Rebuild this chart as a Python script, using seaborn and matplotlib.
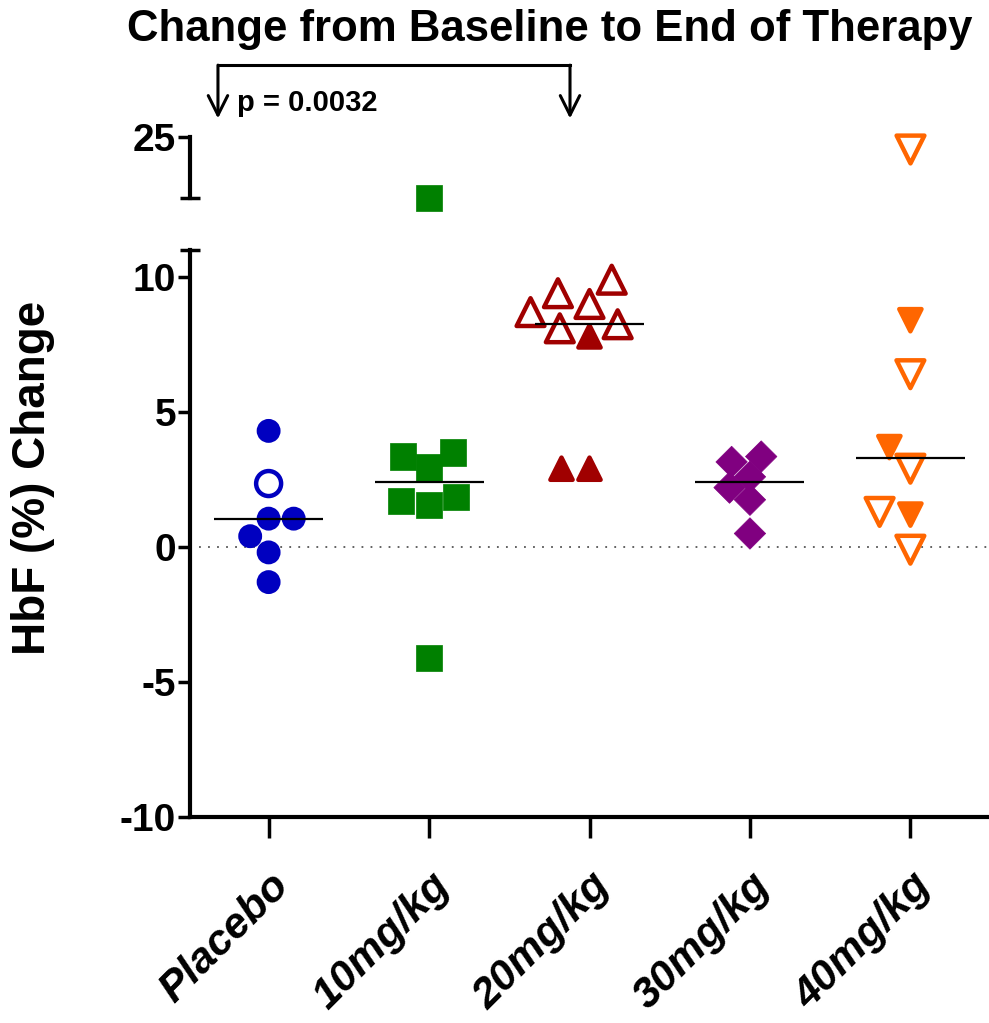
import numpy as np
import pandas as pd
import matplotlib
matplotlib.use('Agg')
import matplotlib.pyplot as plt
import seaborn as sns

# groups and per-group HbF change values
groups = ['Placebo', '10mg/kg', '20mg/kg', '30mg/kg', '40mg/kg']
colors = ['#0000C0', '#008000', '#A00000', '#800080', '#FF6600']
markers = ['o', 's', '^', 'D', 'v']
marker_sizes = [18, 19, 20, 16, 20]

placebo = [4.3, 2.35, 1.05, 1.05, 0.4, -0.2, -1.3]
placebo_open = [0, 1, 0, 0, 0, 0, 0]
mg10 = [20.0, 3.5, 3.35, 2.95, 1.85, 1.7, 1.55, -4.1]
mg10_open = [0, 0, 0, 0, 0, 0, 0, 0]
mg20 = [9.9, 9.4, 9.0, 8.7, 8.25, 8.1, 7.8, 2.9, 2.9]
mg20_open = [1, 1, 1, 1, 1, 1, 0, 0, 0]
mg30 = [3.35, 3.15, 2.6, 2.2, 1.75, 0.5]
mg30_open = [0, 0, 0, 0, 0, 0]
mg40 = [24.0, 8.4, 6.4, 3.7, 2.9, 1.3, 1.2, -0.1]
mg40_open = [1, 0, 1, 0, 1, 1, 0, 1]

ytick_lo = [-10, -5, 0, 5, 10]
ytick_hi = [25]

values = [placebo, mg10, mg20, mg30, mg40]
opens = [placebo_open, mg10_open, mg20_open, mg30_open, mg40_open]
df = pd.DataFrame({
    'group': np.repeat(groups, [len(v) for v in values]),
    'value': np.concatenate(values),
    'open': np.concatenate(opens).astype(bool),
})

sns.set_style('ticks')
plt.rcParams['font.family'] = ['Liberation Sans', 'DejaVu Sans']
plt.rcParams['font.weight'] = 'bold'
for key in ['text.color', 'axes.labelcolor', 'xtick.color', 'ytick.color',
            'axes.edgecolor']:
    plt.rcParams[key] = 'black'

fig = plt.figure(figsize=(9.89, 10.23), dpi=100)
ax_lo = fig.add_axes([190 / 989, 1 - 817 / 1023, 799 / 989, 567 / 1023])
ax_hi = fig.add_axes([190 / 989, 1 - 198 / 1023, 799 / 989, 61 / 1023])


def draw_points(ax, sub):
    for g, c, m, sz in zip(groups, colors, markers, marker_sizes):
        d = sub[sub.group == g]
        if d.empty:
            continue
        n_before = len(ax.collections)
        sns.swarmplot(data=d, x='group', y='value', order=groups, color=c,
                      marker=m, size=sz, ax=ax, warn_thresh=1)
        # swarmplot adds one collection per category; keep the filled one
        new = [cl for cl in ax.collections[n_before:] if len(cl.get_offsets())]
        coll = new[0]
        is_open = d['open'].to_numpy()
        coll.set_facecolors(['white' if o else c for o in is_open])
        coll.set_edgecolors(c)
        if is_open.any():
            # one edge width per collection; shrink the filled ones instead
            coll.set_linewidths(3.2)
            coll.set_sizes(np.where(is_open, sz, sz - 4) ** 2)
        else:
            coll.set_linewidths(0.5)
        coll.set_joinstyle('round')
        coll.set_clip_on(False)


draw_points(ax_lo, df[df.value < 11])
draw_points(ax_hi, df[df.value >= 15])

# median lines
for i, g in enumerate(groups):
    med = np.median(df.loc[df.group == g, 'value'])
    ax_lo.hlines(med, i - 0.34, i + 0.34, color='black', lw=1.6, zorder=5)

ax_lo.axhline(0, color='#555555', ls=(0, (1, 4)), lw=1.3, zorder=0)

# lower axis
ax_lo.set_xlim(-0.49, 4.49)
ax_lo.set_ylim(-10, 11)
ax_lo.set_yticks(ytick_lo)
ax_lo.set_yticklabels([str(t) for t in ytick_lo])
ax_lo.set_yticks([11], minor=True)
ax_lo.tick_params(axis='y', which='major', direction='out', length=9,
                  width=2.5, labelsize=28, pad=1)
ax_lo.tick_params(axis='y', which='minor', direction='inout', length=15,
                  width=2.5)
ax_lo.set_xticks(range(len(groups)))
ax_lo.set_xticklabels(groups, rotation=45, ha='right', rotation_mode='anchor',
                      fontsize=31, fontstyle='italic', fontweight='bold')
ax_lo.tick_params(axis='x', direction='out', length=15, width=2.5, pad=20)
for s in ['top', 'right']:
    ax_lo.spines[s].set_visible(False)
for s in ['left', 'bottom']:
    ax_lo.spines[s].set_linewidth(3)
ax_lo.set_xlabel('')
ax_lo.set_ylabel('HbF (%) Change', fontsize=33, fontweight='bold')
ax_lo.yaxis.set_label_coords(-0.196, 0.598)
ax_lo.yaxis.label.set_va('center')

# upper (broken) axis
ax_hi.set_xlim(-0.49, 4.49)
ax_hi.set_ylim(20, 25)
ax_hi.set_yticks(ytick_hi)
ax_hi.set_yticklabels([str(t) for t in ytick_hi])
ax_hi.set_yticks([20], minor=True)
ax_hi.tick_params(axis='y', which='major', direction='out', length=9,
                  width=2.5, labelsize=28, pad=1)
ax_hi.tick_params(axis='y', which='minor', direction='inout', length=15,
                  width=2.5)
ax_hi.set_xticks([])
for s in ['top', 'right', 'bottom']:
    ax_hi.spines[s].set_visible(False)
ax_hi.spines['left'].set_linewidth(3)
ax_hi.set_xlabel('')
ax_hi.set_ylabel('')
ax_hi.patch.set_alpha(0)

# title and significance bracket
fig.text(550 / 989, 1 - 30 / 1023, 'Change from Baseline to End of Therapy',
         ha='center', va='center', fontsize=31.5, fontweight='bold')
xl, xr, ytop, ytip = 0.035, 0.4756, 1.326, 1.232
ax_lo.plot([xl, xr], [ytop, ytop], transform=ax_lo.transAxes, clip_on=False,
           color='black', lw=2.2, solid_capstyle='projecting')
for xa in (xl, xr):
    ax_lo.annotate('', xy=(xa, ytip), xytext=(xa, ytop),
                   xycoords='axes fraction', textcoords='axes fraction',
                   arrowprops=dict(arrowstyle='->,head_length=0.7,head_width=0.35',
                                   lw=2.2, color='black', mutation_scale=20,
                                   shrinkA=0, shrinkB=0))
ax_lo.text(0.059, 1.259, 'p = 0.0032', transform=ax_lo.transAxes,
           fontsize=21, fontweight='bold', ha='left', va='center')

fig.savefig('out.png', dpi=100)
